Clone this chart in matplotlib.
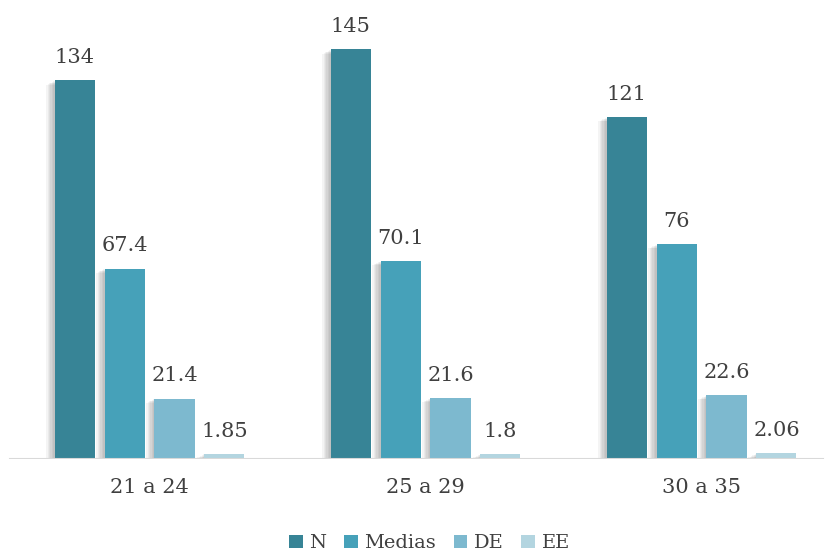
#!/usr/bin/env python3
"""Grouped bars: N / Medias / DE / EE by age group."""

import matplotlib
matplotlib.use("Agg")
import matplotlib.pyplot as plt
import matplotlib.patheffects as pe
import numpy as np

grupos = ["21 a 24", "25 a 29", "30 a 35"]
series = ["N", "Medias", "DE", "EE"]
n_vals = [134, 145, 121]
medias_vals = [67.4, 70.1, 76]
de_vals = [21.4, 21.6, 22.6]
ee_vals = [1.85, 1.8, 2.06]
etiquetas = {
    "N": ["134", "145", "121"],
    "Medias": ["67.4", "70.1", "76"],
    "DE": ["21.4", "21.6", "22.6"],
    "EE": ["1.85", "1.8", "2.06"],
}
colores = ["#378496", "#46A1B9", "#7DB9CF", "#B3D5E0"]

plt.rcParams["font.family"] = ["DejaVu Serif"]
TXT = "#404040"

fig = plt.figure(figsize=(8.26, 5.52), dpi=100)
ax = fig.add_axes([0, 0.1685, 1, 0.8315])

x = np.arange(len(grupos))
ancho = 0.145
paso = 0.181

# soft shadow approximation (stacked faint offsets)
sombra = [pe.SimplePatchShadow(offset=(-d, -d * 0.5), shadow_rgbFace="black", alpha=0.045)
          for d in (6, 5, 4, 3, 2, 1)] + [pe.Normal()]

for i, (nombre, vals) in enumerate(zip(series, [n_vals, medias_vals, de_vals, ee_vals])):
    pos = x + (i - 1.5) * paso
    barras = ax.bar(pos, vals, width=ancho, color=colores[i], label=nombre, zorder=3)
    for b in barras:
        b.set_path_effects(sombra)
    for p, v, t in zip(pos, vals, etiquetas[nombre]):
        ax.annotate(t, (p, v), xytext=(0, 9.5), textcoords="offset points",
                    ha="center", va="bottom", fontsize=15, color=TXT)

ax.set_xlim(-0.5417, 2.451)
ax.set_ylim(0, 162.5)
for s in ax.spines.values():
    s.set_visible(False)
ax.set_yticks([])
ax.set_xticks(x)
ax.set_xticklabels(grupos, fontsize=15, color=TXT)
ax.tick_params(axis="x", length=0, pad=14)
ax.axhline(0, xmin=10 / 826, xmax=823 / 826, color="#d9d9d9", lw=1.5, zorder=4)

leg = fig.legend(loc="center", bbox_to_anchor=(0.52, 0.016), ncol=4, frameon=False,
                 fontsize=14, handlelength=0.7, handleheight=0.7, handletextpad=0.35,
                 columnspacing=0.9, labelcolor=TXT)
for h in leg.legend_handles:
    h.set_path_effects([])

fig.savefig("out.png", dpi=100)
